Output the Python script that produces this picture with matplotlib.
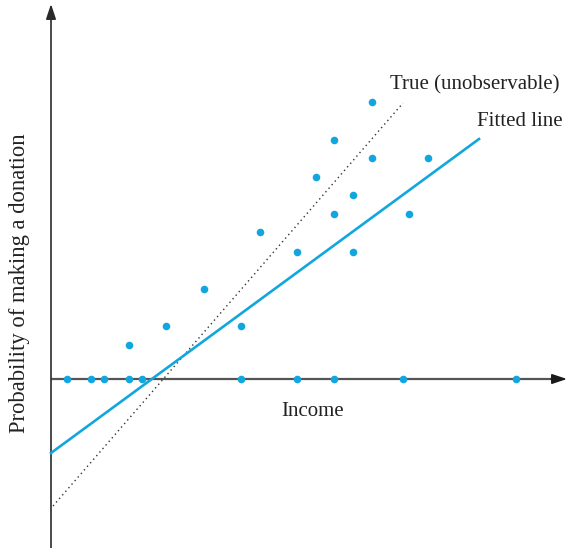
import matplotlib
matplotlib.use("Agg")
import matplotlib.pyplot as plt
import numpy as np

plt.rcParams['font.family'] = ['Liberation Serif', 'DejaVu Serif']

# Data (income, probability) in chart units
zero_x = [16, 40, 53, 78, 91, 190, 246, 283, 352, 465]
zero_y = [0] * len(zero_x)
pos_x = [78, 115, 153, 190, 209, 246, 265, 283, 283, 302, 302, 321, 321, 358, 377]
pos_y = [34, 53, 90, 53, 147, 127, 202, 239, 165, 184, 127, 277, 221, 165, 221]

fit_x = [0, 428]
fit_y = [-74, 240]
true_x = [2, 352]
true_y = [-127, 276]

blue = '#12a6df'
axc = '#555555'

fig = plt.figure(figsize=(5.67, 5.48), dpi=100)
ax = fig.add_axes([0, 0, 1, 1])
ax.set_xlim(-51, 516)
ax.set_ylim(-169, 379)
ax.axis('off')

# axes with arrows
ax.annotate('', xy=(0, 375), xytext=(0, -169),
            arrowprops=dict(arrowstyle='-|>,head_length=0.9,head_width=0.3', color='#2a2a2a', lw=1.2,
                            shrinkA=0, shrinkB=0))
ax.plot([0, 506], [0, 0], color=axc, lw=1.6, zorder=2, solid_capstyle='butt')
ax.annotate('', xy=(516, 0), xytext=(500, 0),
            arrowprops=dict(arrowstyle='-|>,head_length=0.9,head_width=0.3', color='#1a1a1a', lw=1.2,
                            shrinkA=0, shrinkB=0))

ax.plot(true_x, true_y, color='#333333', lw=1.0, linestyle=(0, (1, 2.4)), zorder=3)
ax.plot(fit_x, fit_y, color=blue, lw=1.9, zorder=3)

ax.scatter(zero_x, zero_y, s=30, color=blue, zorder=4, linewidths=0)
ax.scatter(pos_x, pos_y, s=30, color=blue, zorder=4, linewidths=0)

ax.text(339, 294, 'True (unobservable)', fontsize=15, color='#222222', ha='left', va='center')
ax.text(426, 257, 'Fitted line', fontsize=15, color='#222222', ha='left', va='center')
ax.text(262, -33, 'Income', fontsize=15, color='#222222', ha='center', va='center')
ax.text(-31, 96, 'Probability of making a donation', fontsize=16.3, color='#222222',
        ha='center', va='center', rotation=90)

fig.savefig('out.png', dpi=100)
